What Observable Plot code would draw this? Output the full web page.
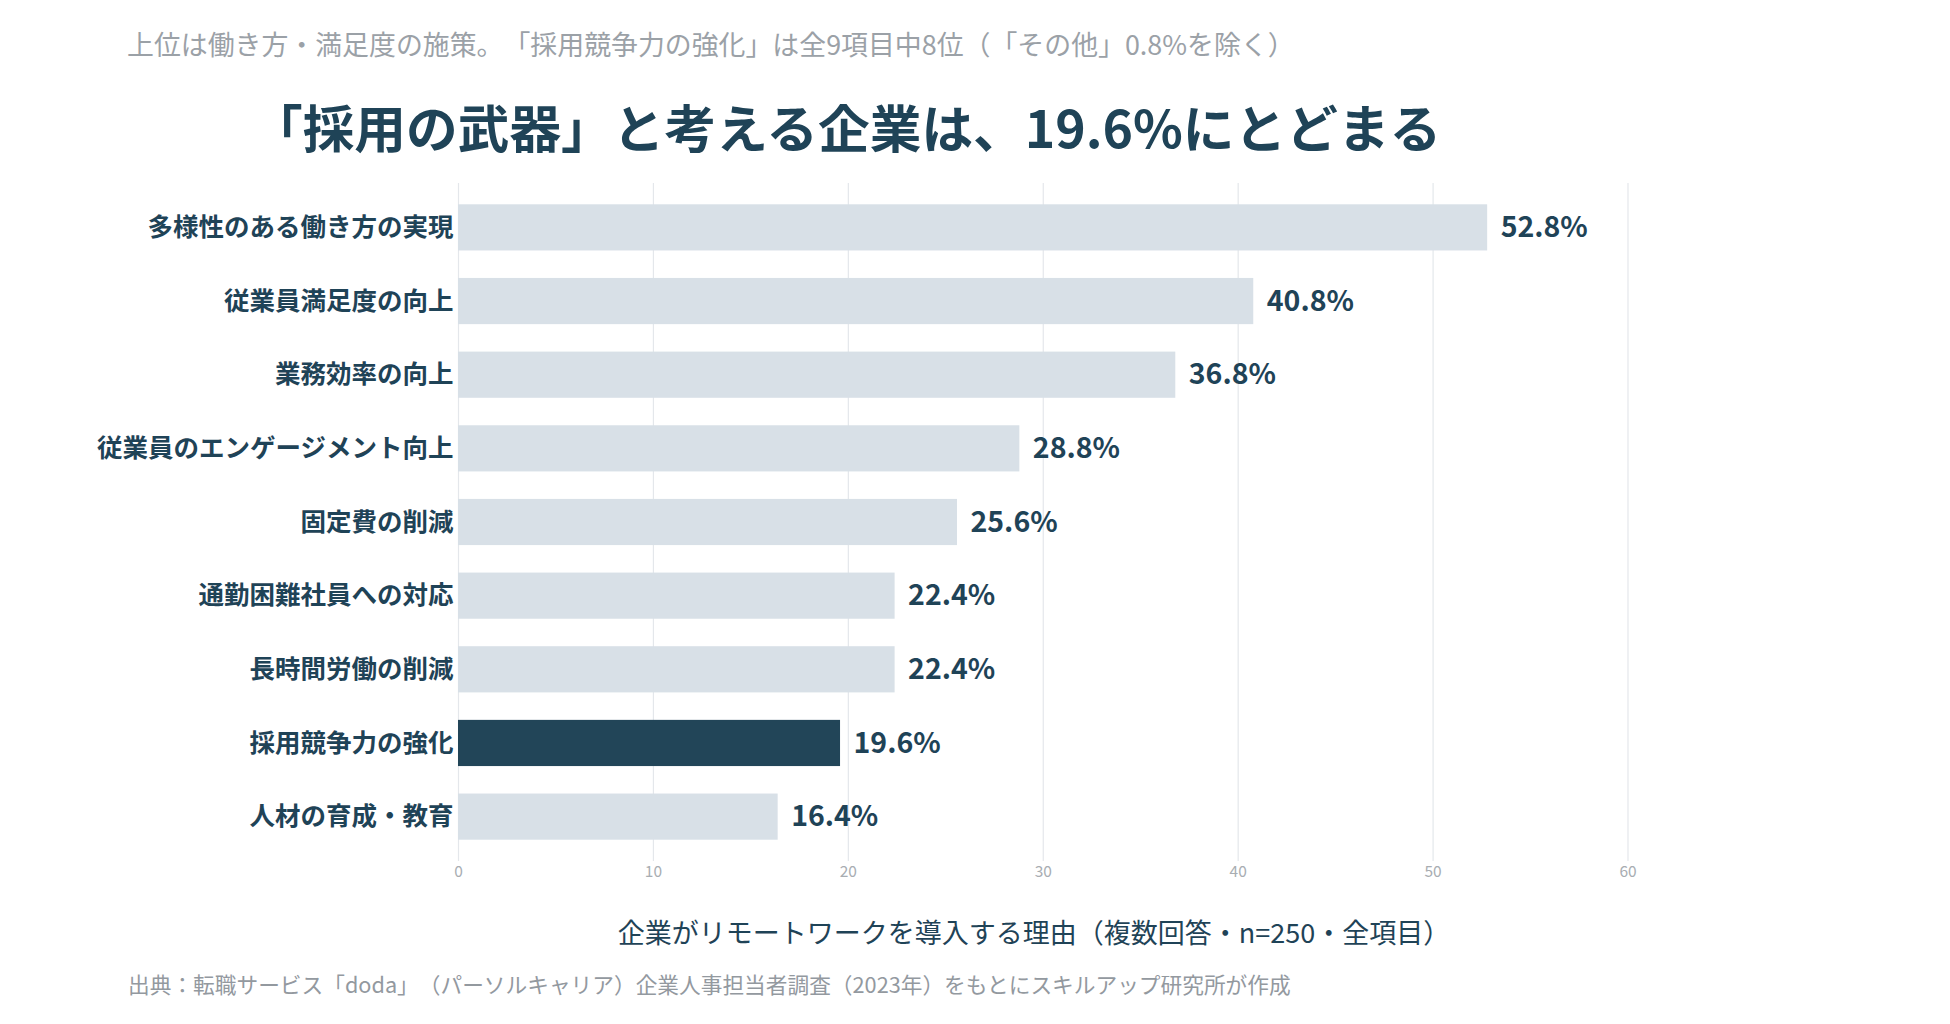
<!DOCTYPE html>
<html>
<head>
<meta charset="utf-8">
<script src="https://cdn.jsdelivr.net/npm/d3@7"></script>
<script src="https://cdn.jsdelivr.net/npm/@observablehq/plot@0.6"></script>
<style>
  html, body { margin: 0; padding: 0; background: #ffffff; }
  body { width: 1950px; height: 1024px; position: relative; overflow: hidden;
         font-family: "Noto Sans CJK JP", "Noto Sans", sans-serif; text-spacing-trim: space-all; }
  #subtitle { position: absolute; left: 127px; top: 28px; font-size: 26.9px; color: #9ba1a7; line-height: 1.2; white-space: nowrap; }
  #title { position: absolute; left: 251px; top: 95px; font-size: 51.7px; font-weight: 700; color: #1f4357; line-height: 1.2; white-space: nowrap; }
  #chart { position: absolute; left: 0; top: 168px; }
  #xtitle { position: absolute; left: 0; width: 2068px; top: 914px; text-align: center; font-size: 27px; color: #1f4357; line-height: 1.3; white-space: nowrap; }
  #caption { position: absolute; left: 128px; top: 971px; font-size: 21.7px; color: #93999f; line-height: 1.2; white-space: nowrap; }
</style>
</head>
<body>
<div id="subtitle">上位は働き方・満足度の施策。「採用競争力の強化」は全9項目中8位（「その他」0.8%を除く）</div>
<div id="title">「採用の武器」と考える企業は、19.6%にとどまる</div>
<div id="chart"></div>
<div id="xtitle">企業がリモートワークを導入する理由（複数回答・n=250・全項目）</div>
<div id="caption">出典：転職サービス「doda」（パーソルキャリア）企業人事担当者調査（2023年）をもとにスキルアップ研究所が作成</div>
<script>
const categories = [
  "多様性のある働き方の実現",
  "従業員満足度の向上",
  "業務効率の向上",
  "従業員のエンゲージメント向上",
  "固定費の削減",
  "通勤困難社員への対応",
  "長時間労働の削減",
  "採用競争力の強化",
  "人材の育成・教育"
];
const values = [52.8, 40.8, 36.8, 28.8, 25.6, 22.4, 22.4, 19.6, 16.4];
const highlighted = "採用競争力の強化";
const xTicks = [0, 10, 20, 30, 40, 50, 60];

const data = categories.map((c, i) => ({
  category: c,
  value: values[i],
  label: values[i].toFixed(1) + "%",
  hi: c === highlighted
}));

const chart = Plot.plot({
  width: 1950,
  height: 728,
  marginLeft: 458,
  marginRight: 322.5,
  marginTop: 15,
  marginBottom: 35,
  style: { fontFamily: "'Noto Sans CJK JP', 'Noto Sans', sans-serif", background: "transparent" },
  x: { domain: [0, 60], ticks: xTicks },
  y: { domain: categories, paddingInner: 0.373, paddingOuter: 0.289, round: false },
  marks: [
    Plot.gridX(xTicks, { stroke: "#e4e7eb", strokeOpacity: 1, strokeWidth: 1.2 }),
    Plot.axisX({ ticks: xTicks, tickSize: 0, tickPadding: 4.5, fontSize: 15.5, color: "#a8adb2", label: null }),
    Plot.axisY({ tickSize: 0, tickPadding: 5, fontSize: 25.5, fontWeight: 700, color: "#1f4357", label: null }),
    Plot.barX(data, { x: "value", y: "category", fill: d => d.hi ? "#224558" : "#d8e0e7" }),
    Plot.text(data, { x: "value", y: "category", text: "label", textAnchor: "start", dx: 13, fontSize: 28.5, fontWeight: 700, fill: "#1f4357" })
  ]
});
document.getElementById("chart").appendChild(chart);
</script>
</body>
</html>
